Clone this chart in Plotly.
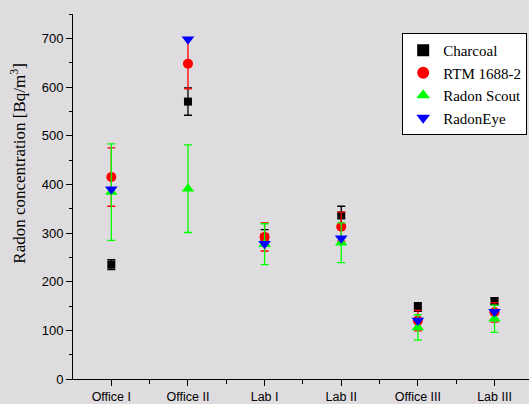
import plotly.graph_objects as go

locations = ["Office I", "Office II", "Lab I", "Lab II", "Office III", "Lab III"]
xpos = [1, 2, 3, 4, 5, 6]

charcoal = [235, 570, 290, 336, 148, 160]
charcoal_err = [10, 28, 17, 19, 9, 7]
rtm = [415, 648, 292, 313, 120, 137]
rtm_err = [60, 52, 29, 30, 21, 20]
scout = [384, 391, 277, 280, 106, 124]
scout_err = [99, 90, 42, 41, 26, 28]
radoneye = [390, 698, 278, 289, 120, 138]

series = [
    ("Charcoal", charcoal, charcoal_err, "square", "#000000", 8),
    ("RTM 1688-2", rtm, rtm_err, "circle", "#ff0000", 10),
    ("Radon Scout", scout, scout_err, "triangle-up", "#00ff00", 11),
    ("RadonEye", radoneye, None, "triangle-down", "#0000ff", 11),
]

fig = go.Figure()
for name, vals, err, sym, col, sz in series:
    fig.add_trace(go.Scatter(
        x=xpos, y=vals, mode="markers", name=name,
        marker=dict(symbol=sym, color=col, size=sz, line=dict(width=0)),
        error_y=(dict(type="data", array=err, visible=True, color=col,
                      thickness=1.3, width=4) if err else None),
    ))

bg = "#dfdcdf"
fig.update_layout(
    width=529, height=404,
    margin=dict(l=73, r=0, t=14, b=25),
    paper_bgcolor=bg, plot_bgcolor=bg,
    showlegend=True,
    legend=dict(
        x=0.996, y=0.948, xanchor="right", yanchor="top",
        bgcolor="white", bordercolor="black", borderwidth=1,
        font=dict(family="Liberation Serif", size=15, color="black"),
        tracegroupgap=0, itemsizing="constant", itemwidth=30,
    ),
    xaxis=dict(
        range=[0.5, 6.45], tickvals=xpos, ticktext=locations,
        automargin=False,
        showgrid=False, zeroline=False, showline=True, linecolor="black",
        linewidth=1, ticks="outside", ticklen=6, tickcolor="black",
        minor=dict(tickvals=[1.5, 2.5, 3.5, 4.5, 5.5], ticks="outside",
                   ticklen=4, tickcolor="black"),
        tickfont=dict(family="Liberation Sans", size=12.5, color="black"),
    ),
    yaxis=dict(
        range=[0, 750], tickvals=[0, 100, 200, 300, 400, 500, 600, 700],
        automargin=False,
        showgrid=False, zeroline=False, showline=True, linecolor="black",
        linewidth=1, ticks="outside", ticklen=6, tickcolor="black",
        minor=dict(dtick=50, tick0=0, ticks="outside", ticklen=3,
                   tickcolor="black"),
        tickfont=dict(family="Liberation Sans", size=13, color="black"),
    ),
    annotations=[dict(
        text="Radon concentration [Bq/m<sup>3</sup>]",
        xref="paper", yref="paper", x=-0.1206, y=0.59,
        xanchor="center", yanchor="middle", textangle=-90, showarrow=False,
        font=dict(family="Liberation Serif", size=17, color="black"),
    )],
)

fig.write_html("out.html", config={"displayModeBar": False},
               post_script="document.body.style.margin='0';document.body.style.padding='0';")
